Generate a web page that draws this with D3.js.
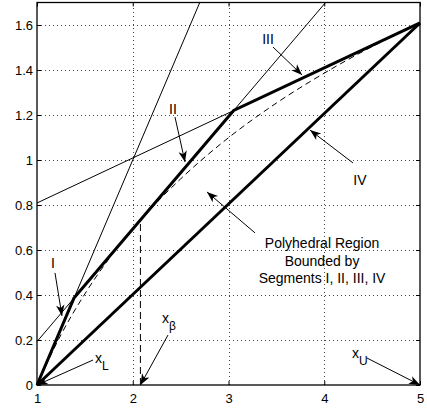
<!DOCTYPE html>
<html>
<head>
<meta charset="utf-8">
<script src="https://cdn.jsdelivr.net/npm/d3@7"></script>
<style>
  body { margin: 0; background: #fff; }
  svg { display: block; font-family: "Liberation Sans", Arial, Helvetica, sans-serif; }
  text { fill: #000; }
</style>
</head>
<body>
<svg id="chart" width="427" height="408"></svg>
<script>
// Axis ticks
const xTicks = [1, 2, 3, 4, 5];
const yTicks = [0, 0.2, 0.4, 0.6, 0.8, 1, 1.2, 1.4, 1.6];

// Dashed concave curve
const curveX = [1, 1.25, 1.5, 1.75, 2, 2.25, 2.5, 3, 3.5, 4, 4.5, 5];
const curveY = [0, 0.223, 0.405, 0.56, 0.693, 0.811, 0.916, 1.099, 1.253, 1.386, 1.504, 1.609];

// Thick segments I, II, III (upper hull) and IV (chord)
const hullX = [1, 1.386, 3.054, 5];
const hullY = [0, 0.386, 1.22, 1.609];
const chordX = [1, 5];
const chordY = [0, 1.609];

// Thin tangent lines: [x0, y0, x1, y1]
const tangentLines = [
  [1, 0, 2.7, 1.7],
  [1, 0.193, 4.014, 1.7],
  [1, 0.809, 5, 1.609]
];

// x_beta marker
const xBeta = 2.08;
const xBetaTop = 0.73;

// Arrow annotations: label position, arrow start, arrow tip (data units)
const segLabels = ['I', 'II', 'III', 'IV'];
const segLabelPos = [[1.167, 0.542], [2.42, 1.227], [3.413, 1.54], [4.373, 0.911]];
const segArrows = [
  [1.188, 0.498, 1.261, 0.307],
  [2.441, 1.191, 2.546, 0.991],
  [3.465, 1.502, 3.768, 1.378],
  [4.3, 0.987, 3.851, 1.133]
];

const regionText = ['Polyhedral Region', 'Bounded by', 'Segments I, II, III, IV'];
const regionTextX = 3.977;
const regionTextY = [0.609, 0.529, 0.453];
const regionArrow = [3.277, 0.676, 2.775, 0.858];

const pointLabels = ['L', '\u03b2', 'U'];
const pointLabelPos = [[1.606, 0.098], [2.305, 0.276], [4.29, 0.12]];
const pointArrows = [
  [1.585, 0.111, 1, 0],
  [2.368, 0.222, 2.08, 0],
  [4.446, 0.12, 5, 0]
];

(function() {
  const svg = d3.select('#chart');
  const margin = {left: 37, right: 7, top: 2.5, bottom: 23};
  const width = +svg.attr('width');
  const height = +svg.attr('height');

  const x = d3.scaleLinear().domain([1, 5]).range([margin.left, width - margin.right]);
  const y = d3.scaleLinear().domain([0, 1.7]).range([height - margin.bottom, margin.top]);

  // Arrow head, notched like the plotting tool's default
  svg.append('defs').append('marker')
    .attr('id', 'head')
    .attr('markerUnits', 'userSpaceOnUse')
    .attr('viewBox', '-12 -5 13 10')
    .attr('refX', 0).attr('refY', 0)
    .attr('markerWidth', 13).attr('markerHeight', 10)
    .attr('orient', 'auto')
    .append('path')
    .attr('d', 'M0,0 L-11,-4.2 L-8,0 L-11,4.2 Z')
    .attr('fill', '#000');

  drawGrid(svg, x, y);

  const plot = svg.append('g').attr('class', 'plot');
  const line = d3.line().x(d => x(d[0])).y(d => y(d[1]));

  // dashed curve
  plot.append('path')
    .datum(d3.zip(curveX, curveY))
    .attr('d', line.curve(d3.curveMonotoneX))
    .attr('fill', 'none').attr('stroke', '#000').attr('stroke-width', 1)
    .attr('stroke-dasharray', '6,4');
  line.curve(d3.curveLinear);

  // tangent lines
  plot.selectAll('.tangent').data(tangentLines).enter().append('line')
    .attr('class', 'tangent')
    .attr('x1', d => x(d[0])).attr('y1', d => y(d[1]))
    .attr('x2', d => x(d[2])).attr('y2', d => y(d[3]))
    .attr('stroke', '#000').attr('stroke-width', 1);

  // x_beta vertical
  plot.append('line')
    .attr('x1', x(xBeta)).attr('x2', x(xBeta))
    .attr('y1', y(0)).attr('y2', y(xBetaTop))
    .attr('stroke', '#000').attr('stroke-width', 1)
    .attr('stroke-dasharray', '7,4');

  // thick segments
  plot.append('path')
    .datum(d3.zip(hullX, hullY))
    .attr('d', line)
    .attr('fill', 'none').attr('stroke', '#000').attr('stroke-width', 3)
    .attr('stroke-linejoin', 'miter');
  plot.append('path')
    .datum(d3.zip(chordX, chordY))
    .attr('d', line)
    .attr('fill', 'none').attr('stroke', '#000').attr('stroke-width', 3);

  drawAxes(svg, x, y);

  // annotations
  const notes = svg.append('g').attr('class', 'notes');
  const allArrows = segArrows.concat([regionArrow], pointArrows);
  notes.selectAll('.arrow').data(allArrows).enter().append('line')
    .attr('class', 'arrow')
    .attr('x1', d => x(d[0])).attr('y1', d => y(d[1]))
    .attr('x2', d => x(d[2])).attr('y2', d => y(d[3]))
    .attr('stroke', '#000').attr('stroke-width', 1)
    .attr('marker-end', 'url(#head)');

  notes.selectAll('.seg-label').data(segLabels).enter().append('text')
    .attr('class', 'seg-label')
    .attr('x', (d, i) => x(segLabelPos[i][0]))
    .attr('y', (d, i) => y(segLabelPos[i][1]))
    .attr('text-anchor', 'middle').attr('dominant-baseline', 'central')
    .attr('font-size', 14).text(d => d);

  notes.selectAll('.region').data(regionText).enter().append('text')
    .attr('class', 'region')
    .attr('x', x(regionTextX))
    .attr('y', (d, i) => y(regionTextY[i]))
    .attr('text-anchor', 'middle')
    .attr('font-size', 14).text(d => d);

  const pl = notes.selectAll('.point-label').data(pointLabels).enter().append('text')
    .attr('class', 'point-label')
    .attr('x', (d, i) => x(pointLabelPos[i][0]))
    .attr('y', (d, i) => y(pointLabelPos[i][1]))
    .attr('font-size', 14);
  pl.append('tspan').text('x');
  pl.append('tspan').attr('dy', 7).attr('font-size', 12).text(d => d);
})();

function drawGrid(svg, x, y) {
  const g = svg.append('g').attr('class', 'grid')
    .attr('stroke', '#444').attr('stroke-width', 1).attr('stroke-dasharray', '1,3');
  g.selectAll('.gx').data(xTicks.slice(1, -1)).enter().append('line')
    .attr('x1', d => Math.round(x(d)) + 0.5).attr('x2', d => Math.round(x(d)) + 0.5)
    .attr('y1', y.range()[0]).attr('y2', y.range()[1]);
  g.selectAll('.gy').data(yTicks.slice(1)).enter().append('line')
    .attr('y1', d => Math.round(y(d)) + 0.5).attr('y2', d => Math.round(y(d)) + 0.5)
    .attr('x1', x.range()[0]).attr('x2', x.range()[1]);
}

function drawAxes(svg, x, y) {
  const [x0, x1] = x.range();
  const [y0, y1] = y.range();
  const fmt = d => d3.format('~g')(d);

  svg.append('g').attr('transform', `translate(0,${y0})`)
    .call(d3.axisBottom(x).tickValues(xTicks).tickSize(-4).tickPadding(9).tickFormat(fmt));
  svg.append('g').attr('transform', `translate(0,${y1})`)
    .call(d3.axisTop(x).tickValues(xTicks).tickSize(-4).tickFormat(''));
  svg.append('g').attr('transform', `translate(${x0},0)`)
    .call(d3.axisLeft(y).tickValues(yTicks).tickSize(-4).tickPadding(4).tickFormat(fmt));
  svg.append('g').attr('transform', `translate(${x1},0)`)
    .call(d3.axisRight(y).tickValues(yTicks).tickSize(-4).tickFormat(''));

  svg.selectAll('.domain').remove();
  svg.selectAll('.tick line').attr('stroke', '#000');
  svg.selectAll('.tick text').attr('font-size', 13).attr('fill', '#000')
    .attr('font-family', '"Liberation Sans", Arial, sans-serif');

  svg.append('rect')
    .attr('x', x0).attr('y', y1)
    .attr('width', x1 - x0).attr('height', y0 - y1)
    .attr('fill', 'none').attr('stroke', '#000').attr('stroke-width', 1.3);
}
</script>
</body>
</html>
